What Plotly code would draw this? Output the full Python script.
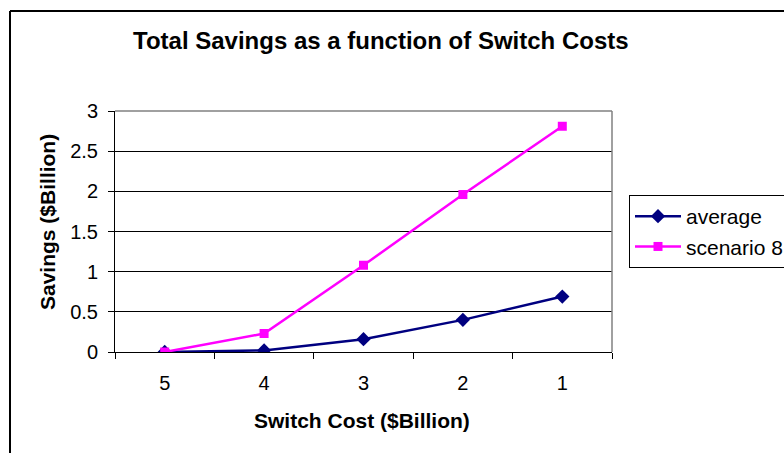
import plotly.graph_objects as go

switch_cost = ["5", "4", "3", "2", "1"]
average = [0.0, 0.02, 0.16, 0.40, 0.69]
scenario8 = [0.0, 0.23, 1.08, 1.96, 2.81]
y_ticks = [0, 0.5, 1, 1.5, 2, 2.5, 3]

FONT = "Liberation Sans, Arial, sans-serif"

fig = go.Figure()
fig.add_trace(go.Scatter(
    x=switch_cost, y=average, name="average", mode="lines+markers",
    line=dict(color="#000080", width=2.5),
    marker=dict(symbol="diamond", size=11, color="#000080"),
    legendgroup="a",
))
fig.add_trace(go.Scatter(
    x=switch_cost, y=scenario8, name="scenario 8", mode="lines+markers",
    line=dict(color="#FF00FF", width=2.5),
    marker=dict(symbol="square", size=9, color="#FF00FF"),
    legendgroup="b",
))

L, R, T, B = 115, 172, 111, 101
W, H = 784, 453
pw, ph = W - L - R, H - T - B

def px_x(p):
    return (p - L) / pw

def px_y(p):
    return (H - B - p) / ph

fig.update_layout(
    width=W, height=H,
    margin=dict(l=L, r=R, t=T, b=B, autoexpand=False),
    paper_bgcolor="white", plot_bgcolor="white",
    font=dict(family=FONT, color="black", size=20),
    showlegend=True,
    legend=dict(
        x=px_x(629), y=px_y(195), xanchor="left", yanchor="top",
        bordercolor="black", borderwidth=1, bgcolor="white",
        font=dict(size=21, family=FONT),
        tracegroupgap=0, itemwidth=46,
    ),
    xaxis=dict(
        type="category", range=[-0.5, 4.5],
        showgrid=False, zeroline=False,
        showline=True, linecolor="black", linewidth=1,
        ticks="outside", tickson="boundaries", ticklen=6, tickcolor="black",
        tickfont=dict(size=20), ticklabelstandoff=13,
    ),
    yaxis=dict(
        range=[0, 3], tickvals=y_ticks,
        ticktext=[str(v) if v % 1 else str(int(v)) for v in y_ticks],
        showgrid=True, gridcolor="black", gridwidth=1,
        zeroline=False,
        showline=True, linecolor="black", linewidth=1,
        ticks="outside", ticklen=6, tickcolor="black",
        tickfont=dict(size=20), ticklabelstandoff=6,
    ),
    shapes=[
        dict(type="line", xref="paper", yref="paper", x0=0, x1=1, y0=1, y1=1,
             line=dict(color="#808080", width=1.5)),
        dict(type="line", xref="paper", yref="paper", x0=1, x1=1, y0=0, y1=1,
             line=dict(color="#808080", width=1.5)),
        dict(type="line", xref="paper", yref="paper",
             x0=px_x(10), x1=px_x(10), y0=px_y(11), y1=px_y(470),
             line=dict(color="black", width=2)),
        dict(type="line", xref="paper", yref="paper",
             x0=px_x(10), x1=px_x(800), y0=px_y(11), y1=px_y(11),
             line=dict(color="black", width=2)),
    ],
    annotations=[
        dict(text="<b>Total Savings as a function of Switch Costs</b>",
             xref="paper", yref="paper", x=px_x(381), y=px_y(41),
             xanchor="center", yanchor="middle", showarrow=False,
             font=dict(size=24, family=FONT)),
        dict(text="<b>Savings ($Billion)</b>", textangle=-90,
             xref="paper", yref="paper", x=px_x(47), y=px_y(222),
             xanchor="center", yanchor="middle", showarrow=False,
             font=dict(size=21, family=FONT)),
        dict(text="<b>Switch Cost ($Billion)</b>",
             xref="paper", yref="paper", x=px_x(362), y=px_y(420),
             xanchor="center", yanchor="middle", showarrow=False,
             font=dict(size=21, family=FONT)),
    ],
)

fig.write_html("out.html")
